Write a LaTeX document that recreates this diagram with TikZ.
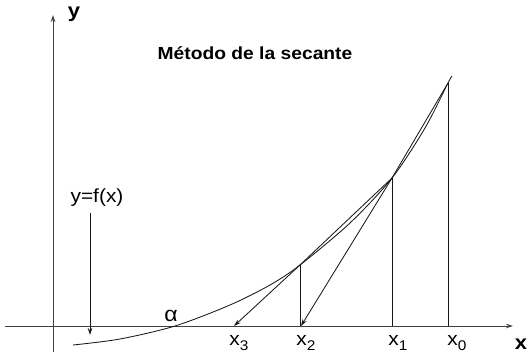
\documentclass[tikz,border=0pt]{standalone}
\usepackage{fontspec}
\setmainfont[FakeStretch=1.1]{Liberation Sans}
\usepackage{graphicx}
\usetikzlibrary{arrows.meta}
\newcommand\lowidx[1]{\raisebox{-5pt}{\fontsize{14}{14}\selectfont #1}}
\begin{document}
\begin{tikzpicture}[x=1pt,y=-1pt,
  axisline/.style={draw=black!75, line width=0.9pt, -{Stealth[length=7pt,width=4.5pt]}},
  thinline/.style={draw=black!90, line width=0.85pt},
  arrline/.style={thinline, -{Stealth[length=7pt,width=4.5pt]}},
  lbl/.style={font=\fontsize{19}{19}\selectfont, inner sep=0pt, anchor=base},
  biglbl/.style={font=\fontsize{20}{20}\selectfont\bfseries, inner sep=0pt, anchor=base}]
\useasboundingbox (0,0) rectangle (527,352);
% axes
\coordinate (xs) at (5,326);
\coordinate (xe) at (513,326);
\coordinate (ys) at (53,352);
\coordinate (ye) at (53,15);
\draw[axisline] (xs) -- (xe);
\draw[axisline] (ys) -- (ye);
\node[biglbl] (ylab) at (74,18) {y};
\node[biglbl] (xlab) at (521,349) {x};
% title
\node[lbl, font=\fontsize{17.5}{17.5}\selectfont\bfseries] (title) at (255,60) {Método de la secante};
% points
\coordinate (P0) at (448,83);
\coordinate (P1) at (392,178);
\coordinate (P2) at (300,265);
\coordinate (X0) at (448,326);
\coordinate (X1) at (392,326);
\coordinate (X2) at (301,326);
\coordinate (X3) at (234,326);
% curve
\draw[thinline] plot[smooth, tension=0.5] coordinates {(73,345) (120,339) (175,326) (230,305) (270,285) (300,265) (350,223) (392,178) (425,128) (448,83) (452,76)};
% verticals
\draw[thinline] (P0) -- (X0);
\draw[thinline] (P1) -- (X1);
\draw[thinline] (P2) -- (300,326);
% secants
\draw[thinline] (P0) -- (P1);
\draw[arrline] (P1) -- (X2);
\draw[thinline] (P1) -- (P2);
\draw[arrline] (P2) -- (X3);
% y=f(x) label and arrow
\node[lbl] (yf) at (97,203) {y=f(x)};
\coordinate (fa) at (90,213);
\coordinate (fb) at (90,335);
\draw[arrline] (fa) -- (fb);
% labels
\node[lbl, font=\fontsize{21}{21}\selectfont] (alpha) at (171,322) {α};
\node[lbl] (x3) at (239,345) {x\lowidx{3}};
\node[lbl] (x2) at (306,345) {x\lowidx{2}};
\node[lbl] (x1) at (398,345) {x\lowidx{1}};
\node[lbl] (x0) at (457,345) {x\lowidx{0}};
\end{tikzpicture}
\end{document}
